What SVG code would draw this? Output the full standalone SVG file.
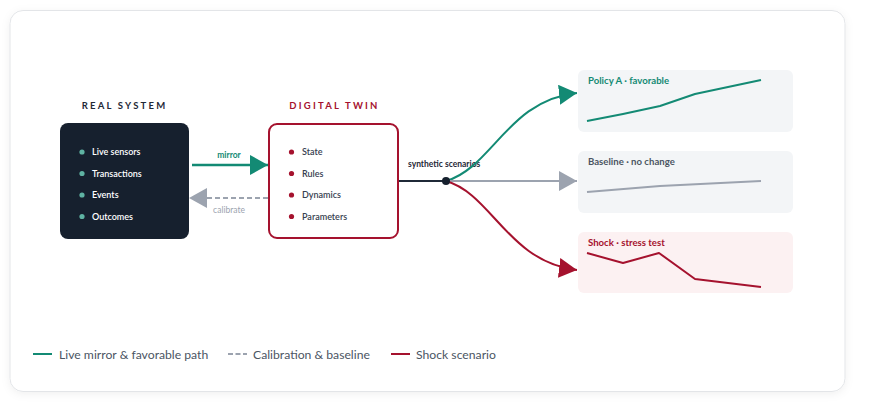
<svg xmlns="http://www.w3.org/2000/svg" width="870" height="410" viewBox="0 0 870 410">
<style>
text{font-family:Lato,"Noto Sans","Liberation Sans",sans-serif}
.hdr{font-size:9.5px;font-weight:700;letter-spacing:2.2px;text-anchor:middle}
.item{font-size:9px;font-weight:600}
.lbl{font-size:8.5px;font-weight:700}
.ttl{font-size:9.6px;font-weight:700}
.leg{font-size:12.2px;fill:#4b5563}
.spark{fill:none;stroke-width:2;stroke-linejoin:round}
</style>
<defs>
<filter id="sh" x="-5%" y="-5%" width="110%" height="115%">
<feDropShadow dx="0" dy="2" stdDeviation="4" flood-color="#000" flood-opacity="0.06"/>
</filter>
<marker id="mTeal" markerUnits="userSpaceOnUse" markerWidth="18" markerHeight="20" refX="18" refY="10" orient="auto"><path d="M0,0 L18,10 L0,20 z" fill="#138a74"/></marker>
<marker id="mGray" markerUnits="userSpaceOnUse" markerWidth="18" markerHeight="20" refX="18" refY="10" orient="auto"><path d="M0,0 L18,10 L0,20 z" fill="#9ca3af"/></marker>
<marker id="mRed" markerUnits="userSpaceOnUse" markerWidth="18" markerHeight="20" refX="18" refY="10" orient="auto"><path d="M0,0 L18,10 L0,20 z" fill="#a5122e"/></marker>
</defs>
<rect x="0" y="0" width="870" height="410" fill="#ffffff"/>
<rect x="10" y="10.5" width="835" height="381" rx="13" fill="#ffffff" stroke="#e3e5e8" stroke-width="1" filter="url(#sh)"/>

<g id="real-system">
<text class="hdr" x="124.5" y="108.5" fill="#1f2937">REAL SYSTEM</text>
<rect x="60" y="123" width="129" height="116" rx="8" fill="#16202e"/>
<g fill="#5fb3a3"><circle cx="82" cy="152" r="2.6"/><circle cx="82" cy="173.5" r="2.6"/><circle cx="82" cy="195" r="2.6"/><circle cx="82" cy="216.5" r="2.6"/></g>
<g fill="#ffffff">
<text class="item" x="92" y="155">Live sensors</text>
<text class="item" x="92" y="176.5">Transactions</text>
<text class="item" x="92" y="198">Events</text>
<text class="item" x="92" y="219.5">Outcomes</text>
</g>
</g>

<g id="digital-twin">
<text class="hdr" x="334.5" y="108.5" fill="#a5122e">DIGITAL TWIN</text>
<rect x="269" y="124" width="129" height="114" rx="8" fill="#ffffff" stroke="#a5122e" stroke-width="2"/>
<g fill="#a5122e"><circle cx="291.5" cy="152" r="2.6"/><circle cx="291.5" cy="173.5" r="2.6"/><circle cx="291.5" cy="195" r="2.6"/><circle cx="291.5" cy="216.5" r="2.6"/></g>
<g fill="#374151">
<text class="item" x="302" y="155" font-weight="400">State</text>
<text class="item" x="302" y="176.5" font-weight="400">Rules</text>
<text class="item" x="302" y="198" font-weight="400">Dynamics</text>
<text class="item" x="302" y="219.5" font-weight="400">Parameters</text>
</g>
</g>

<g id="policy-a">
<rect x="578" y="70" width="215" height="62" rx="6" fill="#f3f5f7"/>
<text class="ttl" x="588" y="84" fill="#138a74">Policy A · favorable</text>
<polyline class="spark" stroke="#138a74" points="587,121 623,114 660,106 695,94 761,80"/>
</g>
<g id="baseline">
<rect x="578" y="151" width="215" height="62" rx="6" fill="#f3f5f7"/>
<text class="ttl" x="588" y="165" fill="#4b5563">Baseline · no change</text>
<polyline class="spark" stroke="#9ca3af" points="587,192 660,186 761,181"/>
</g>
<g id="shock">
<rect x="578" y="232" width="215" height="61" rx="6" fill="#fcf1f2"/>
<text class="ttl" x="588" y="246" fill="#a5122e">Shock · stress test</text>
<polyline class="spark" stroke="#a5122e" points="587,253 623,263 659,253 695,279 761,287"/>
</g>

<g id="connectors">
<line x1="192" y1="165" x2="268" y2="165" stroke="#138a74" stroke-width="2.5" marker-end="url(#mTeal)"/>
<text class="lbl" x="229" y="158" text-anchor="middle" fill="#138a74">mirror</text>
<line x1="268" y1="198" x2="189" y2="198" stroke="#9ca3af" stroke-width="2" stroke-dasharray="5,3" marker-end="url(#mGray)"/>
<text x="229" y="213" text-anchor="middle" font-size="8.5" fill="#9ca3af">calibrate</text>
<line x1="399" y1="181" x2="446" y2="181" stroke="#1f2937" stroke-width="2"/>
<text class="lbl" x="408" y="167" fill="#1f2937" font-size="8.3">synthetic scenarios</text>
<path d="M446,181 C492,168 508,100 577,93" fill="none" stroke="#138a74" stroke-width="2" marker-end="url(#mTeal)"/>
<line x1="446" y1="181" x2="577" y2="181" stroke="#9ca3af" stroke-width="2" marker-end="url(#mGray)"/>
<path d="M446,181 C492,194 508,262 577,270" fill="none" stroke="#a5122e" stroke-width="2" marker-end="url(#mRed)"/>
<circle cx="446" cy="181" r="4" fill="#16202e"/>
</g>

<g id="legend">
<line x1="33" y1="354" x2="52" y2="354" stroke="#138a74" stroke-width="2"/>
<text class="leg" x="59" y="358.5">Live mirror &amp; favorable path</text>
<line x1="228" y1="354" x2="247" y2="354" stroke="#9ca3af" stroke-width="2" stroke-dasharray="5,2.5"/>
<text class="leg" x="253" y="358.5">Calibration &amp; baseline</text>
<line x1="391" y1="354" x2="410" y2="354" stroke="#a5122e" stroke-width="2"/>
<text class="leg" x="416" y="358.5">Shock scenario</text>
</g>
</svg>
